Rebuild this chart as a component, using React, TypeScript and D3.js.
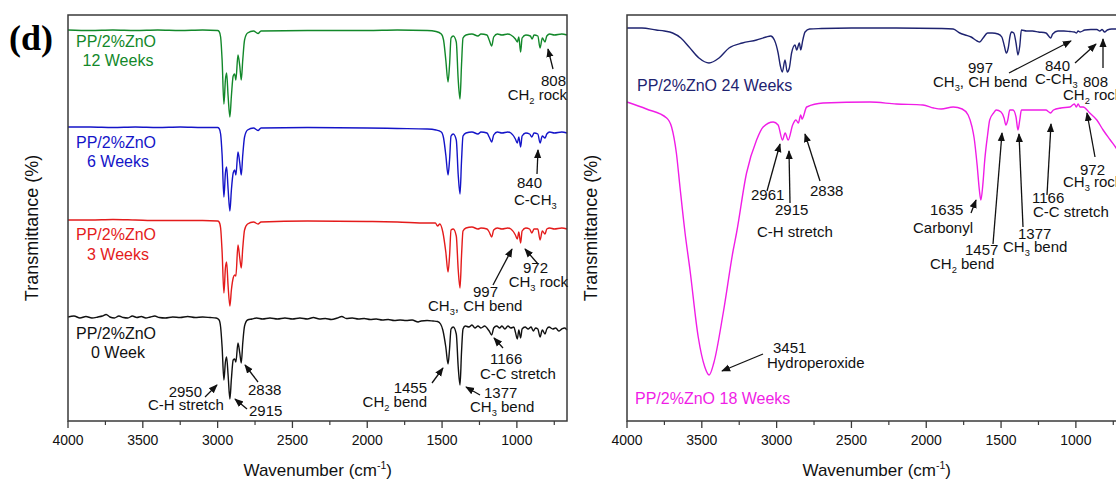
import React from 'react'
import * as d3 from 'd3'

// wavenumber axis (shared by both panels)
const wnDomain = [4000, 665]
const majorTicks = [4000, 3500, 3000, 2500, 2000, 1500, 1000]
const minorTicks = [3750, 3250, 2750, 2250, 1750, 1250, 750]

// spectra: [wavenumber, depth below the trace baseline] (arbitrary transmittance units)
const week12 = [[4000,0],[3850,0.5],[3700,0],[3550,0.5],[3400,0],[3250,0.5],[3100,0],[3000,0.5],[2990,1.5],[2980,7],[2970,30],[2958,74],[2948,50],[2940,43],[2930,66],[2918,87],[2908,66],[2896,46],[2886,44],[2878,50],[2864,25],[2852,36],[2842,50],[2832,30],[2820,10],[2800,3],[2760,1],[2730,3.5],[2710,1],[2400,0.5],[2000,0.5],[1800,0],[1600,0.5],[1540,1.5],[1505,4],[1490,10],[1475,30],[1460,52],[1450,35],[1440,8],[1425,6],[1405,12],[1392,50],[1380,69],[1370,35],[1360,8],[1340,5],[1300,4],[1260,6],[1240,4],[1200,5],[1185,10],[1168,16],[1155,7],[1130,4],[1100,5],[1060,4],[1040,5],[1010,9],[997,12],[987,7],[975,22],[965,8],[940,5],[910,6],[898,9],[885,5],[860,6],[845,18],[830,8],[812,12],[800,6],[780,4],[750,5],[700,4],[665,5]]
const week6 = [[4000,0],[3850,0],[3700,0.5],[3550,0],[3400,0.5],[3250,0],[3100,0.5],[3000,0.5],[2990,1.5],[2980,7],[2970,28],[2958,70],[2948,46],[2940,40],[2930,62],[2918,84],[2908,63],[2896,46],[2886,43],[2878,48],[2864,25],[2852,36],[2842,48],[2832,28],[2820,10],[2800,3],[2760,1],[2730,3.5],[2710,1],[2400,0.5],[2000,1],[1800,1.5],[1600,2],[1540,3],[1505,5],[1490,11],[1475,28],[1460,48],[1450,33],[1440,9],[1425,7],[1405,13],[1392,48],[1380,67],[1370,34],[1360,9],[1340,6],[1300,5],[1260,7],[1240,5],[1200,6],[1185,10],[1168,15],[1155,8],[1130,5],[1100,6],[1060,5],[1040,6],[1010,12],[997,16],[987,10],[975,20],[965,9],[940,6],[915,7],[900,10],[885,6],[860,7],[845,16],[830,9],[812,11],[800,7],[780,5],[750,6],[700,5],[665,6]]
const week3 = [[4000,0],[3850,0],[3700,-0.5],[3550,0],[3400,0.5],[3250,0.5],[3100,0.5],[3000,1],[2990,2],[2980,8],[2970,32],[2958,73],[2948,48],[2940,42],[2930,66],[2918,86],[2908,70],[2896,58],[2886,55],[2878,56],[2864,25],[2852,38],[2842,48],[2832,28],[2820,10],[2800,4],[2760,2],[2730,4],[2710,2],[2400,1],[2000,1.5],[1800,2],[1600,3],[1545,3],[1530,6],[1515,4],[1495,12],[1475,32],[1460,52],[1450,36],[1440,10],[1425,9],[1405,16],[1392,50],[1380,68],[1370,36],[1360,11],[1340,8],[1300,7],[1260,9],[1240,8],[1200,9],[1185,12],[1168,17],[1155,10],[1130,8],[1100,9],[1060,8],[1040,9],[1010,15],[997,19],[987,12],[975,23],[965,11],[940,8],[915,9],[900,13],[885,9],[860,9],[845,20],[830,11],[812,14],[800,9],[780,8],[750,9],[700,8],[665,9]]
const week0 = [[4000,0],[3960,-1],[3920,1],[3880,-0.5],[3840,1],[3800,0],[3770,-1],[3745,-2.5],[3720,0],[3690,1],[3660,-1],[3630,0.5],[3600,1],[3570,-1],[3540,0.5],[3510,-0.5],[3480,1],[3450,0],[3420,-1],[3390,0.5],[3350,1],[3300,0],[3250,0.5],[3200,-0.5],[3150,0.5],[3100,0],[3050,0.5],[3010,1],[2990,3],[2980,10],[2970,30],[2958,63],[2948,45],[2940,40],[2930,58],[2918,82],[2908,62],[2896,43],[2886,42],[2878,45],[2864,26],[2852,36],[2842,46],[2832,26],[2820,9],[2800,3],[2770,2],[2740,1],[2700,2],[2650,1],[2600,2],[2550,1],[2500,2],[2450,1],[2400,2],[2360,0.5],[2320,2],[2280,1.5],[2240,2.5],[2200,1],[2170,-0.5],[2140,1.5],[2100,1],[2060,2],[2020,1.5],[1980,2.5],[1940,2],[1900,3],[1860,2.5],[1820,3.5],[1780,3],[1740,3.5],[1700,3],[1660,5],[1640,4],[1600,3.5],[1560,4],[1530,4.5],[1510,7],[1495,13],[1475,30],[1460,47],[1450,32],[1440,12],[1425,10],[1405,17],[1392,50],[1380,68],[1370,35],[1360,12],[1345,9],[1320,10],[1300,8],[1280,11],[1260,9],[1240,11],[1215,9],[1200,11],[1185,14],[1168,18],[1155,11],[1135,9],[1115,11],[1100,9],[1080,12],[1060,9],[1040,11],[1020,10],[1010,15],[997,22],[987,13],[975,21],[965,12],[945,10],[925,12],[905,10],[890,14],[875,11],[860,12],[845,20],[830,13],[812,17],[800,12],[785,10],[760,12],[740,11],[720,14],[700,12],[680,11],[665,13]]
const week24 = [[4000,0],[3900,0],[3805,2],[3750,3],[3695,5],[3640,10],[3585,19],[3519,30],[3452,35],[3385,30],[3318,20],[3229,15],[3134,12],[3070,9],[3040,8],[3015,12],[2990,25],[2975,38],[2962,44],[2944,32],[2929,44],[2915,40],[2900,25],[2877,17],[2866,22],[2848,15],[2839,22],[2825,12],[2810,4],[2780,1],[2700,0.5],[2500,0],[2200,0],[1900,0.5],[1820,1],[1776,5],[1740,7],[1700,9],[1660,13],[1643,14],[1620,10],[1590,5],[1560,5],[1520,6],[1495,9],[1478,18],[1465,25],[1452,20],[1440,8],[1431,4],[1415,5],[1400,15],[1387,27],[1375,18],[1364,2],[1330,3],[1290,3],[1250,4],[1200,5],[1182,8],[1169,10],[1155,6],[1120,3],[1080,3],[1040,3.5],[1010,4],[996,5],[985,3],[972,4],[940,2],[900,1.5],[860,1.5],[840,3],[825,1.5],[808,4],[790,2],[760,1],[700,1],[665,1]]
const week18 = [[4000,-1],[3870,6],[3735,15],[3702,24],[3670,50],[3646,84],[3612,130],[3579,167],[3524,234],[3480,264],[3451,272],[3420,260],[3357,210],[3290,147],[3268,130],[3201,70],[3134,37],[3090,24],[3023,19],[2990,22],[2961,37],[2943,30],[2923,37],[2893,22],[2871,17],[2855,20],[2839,12],[2830,16],[2799,4],[2690,0],[2376,-1],[2200,1],[2022,2],[1950,5],[1900,6],[1820,4],[1760,6],[1720,12],[1694,24],[1680,35],[1660,62],[1645,87],[1635,97],[1622,82],[1609,57],[1590,32],[1576,17],[1550,10],[1532,7],[1500,9],[1480,15],[1468,22],[1455,17],[1442,7],[1420,7],[1400,14],[1387,27],[1375,17],[1364,7],[1300,7],[1264,7],[1200,7],[1180,9],[1169,10],[1150,7],[1100,5],[1040,4],[1010,1],[997,4],[985,1],[972,4],[952,4],[907,10],[860,17],[818,27],[770,37],[731,45],[700,52],[665,59]]

const leftSeries = [week12, week6, week3, week0]
const leftOffsets = [391, 294, 201, 104]
const leftNames = ['12 Weeks', '6 Weeks', '3 Weeks', '0 Week']
const rightSeries = [week24, week18]
const rightOffsets = [393, 318]
const rightNames = ['PP/2%ZnO 24 Weeks', 'PP/2%ZnO 18 Weeks']

const leftColors = ['#12882a', '#1414c8', '#e41b1b', '#111111']
const rightColors = ['#1e2370', '#f01de6']

const FONT = '"Liberation Sans", Arial, sans-serif'
const TOP = 15, BOTTOM = 421

// text with _n subscripts and ^-1 superscripts
const Rich = ({ x, y, text, anchor = 'start', fill = '#111', size = 15 }) => {
    const parts = text.split(/(_\d|\^-?\d)/).filter(p => p !== '')
    let shift = 0
    const spans = parts.map((p, i) => {
        if (p[0] === '_') {
            const dy = 4 - shift; shift = 4
            return <tspan key={i} dy={dy} fontSize={size * 0.62}>{p.slice(1)}</tspan>
        }
        if (p[0] === '^') {
            const dy = -7 - shift; shift = -7
            return <tspan key={i} dy={dy} fontSize={size * 0.62}>{p.slice(1)}</tspan>
        }
        const dy = -shift; shift = 0
        return <tspan key={i} dy={dy}>{p}</tspan>
    })
    return <text x={x} y={y} textAnchor={anchor} fill={fill} fontSize={size}>{spans}</text>
}

const Arrow = ({ a }) =>
    <line x1={a[0]} y1={a[1]} x2={a[2]} y2={a[3]} stroke="#111" strokeWidth={1.3} markerEnd="url(#arrowHead)" />

// annotations: [text lines with x, baseline, anchor], arrow tail -> head
const leftNotes = [
    { lines: [['808', 566, 86, 'end'], ['CH_2 rock', 567, 100, 'end']], arrow: [553, 69, 548, 49] },
    { lines: [['840', 517, 188, 'start'], ['C-CH_3', 514, 205, 'start']], arrow: [537, 174, 538, 150] },
    { lines: [['997', 473, 297, 'start'], ['CH_3, CH bend', 428, 311, 'start']], arrow: [493, 285, 512, 249] },
    { lines: [['972', 523, 273, 'start'], ['CH_3 rock', 568, 287, 'end']], arrow: [538, 264, 525, 249] },
    { lines: [['1166', 490, 364, 'start'], ['C-C stretch', 480, 379, 'start']], arrow: [503, 348, 494, 338] },
    { lines: [['1455', 427, 393, 'end'], ['CH_2 bend', 427, 407, 'end']], arrow: [432, 383, 443, 368] },
    { lines: [['1377', 484, 398, 'start'], ['CH_3 bend', 470, 412, 'start']], arrow: [480, 395, 466, 387] },
    { lines: [['2950', 202, 397, 'end'], ['C-H stretch', 148, 410, 'start']], arrow: [205, 397, 217, 385] },
    { lines: [['2838', 248, 395, 'start']], arrow: [258, 382, 245, 365] },
    { lines: [['2915', 249, 416, 'start']], arrow: [247, 409, 235, 399] },
]
const rightNotes = [
    { lines: [['2961', 751, 200, 'start']], arrow: [767, 191, 780, 144] },
    { lines: [['2915', 775, 215, 'start']], arrow: [790, 203, 789, 151] },
    { lines: [['2838', 810, 196, 'start']], arrow: [820, 181, 805, 134] },
    { lines: [['C-H stretch', 757, 237, 'start']], arrow: null },
    { lines: [['3451', 773, 353, 'start'], ['Hydroperoxide', 767, 368, 'start']], arrow: [763, 354, 722, 371] },
    { lines: [['997', 968, 73, 'start'], ['CH_3, CH bend', 933, 87, 'start']], arrow: [1009, 73, 1071, 41] },
    { lines: [['840', 1045, 71, 'start'], ['C-CH_3', 1035, 84, 'start']], arrow: [1075, 63, 1096, 44] },
    { lines: [['808', 1083, 87, 'start'], ['CH_2 rock', 1063, 100, 'start']], arrow: [1103, 68, 1103, 39] },
    { lines: [['1635', 930, 215, 'start'], ['Carbonyl', 913, 233, 'start']], arrow: [971, 213, 976, 200] },
    { lines: [['1457', 965, 255, 'start'], ['CH_2 bend', 930, 269, 'start']], arrow: [993, 244, 1002, 133] },
    { lines: [['1377', 1018, 239, 'start'], ['CH_3 bend', 1003, 252, 'start']], arrow: [1023, 227, 1019, 134] },
    { lines: [['1166', 1032, 203, 'start'], ['C-C stretch', 1033, 217, 'start']], arrow: [1047, 195, 1051, 124] },
    { lines: [['972', 1080, 175, 'start'], ['CH_3 rock', 1063, 187, 'start']], arrow: [1095, 157, 1087, 113] },
]

const Panel = ({ left, right, series, offsets, colors, children }) => {
    const x = d3.scaleLinear().domain(wnDomain).range([left, right])
    const y = d3.scaleLinear().domain([0, BOTTOM - TOP]).range([BOTTOM, TOP])
    const mid = (left + Math.min(right, 1126)) / 2
    return (
        <g>
            {series.map((s, i) => {
                const line = d3.line()
                    .x(d => x(d[0]))
                    .y(d => y(offsets[i] - d[1]))
                    .curve(d3.curveMonotoneX)
                return <path key={i} d={line(s)} fill="none" stroke={colors[i]} strokeWidth={1.4} strokeLinejoin="round" />
            })}
            <rect x={left} y={TOP} width={right - left} height={BOTTOM - TOP} fill="none" stroke="#3a3a3a" strokeWidth={1.5} />
            {majorTicks.map(t => (
                <g key={t}>
                    <line x1={x(t)} x2={x(t)} y1={BOTTOM} y2={BOTTOM + 7} stroke="#3a3a3a" strokeWidth={1.3} />
                    <text x={x(t)} y={445} textAnchor="middle" fontSize={14} fill="#111">{t}</text>
                </g>
            ))}
            {minorTicks.map(t => (
                <line key={t} x1={x(t)} x2={x(t)} y1={BOTTOM} y2={BOTTOM + 4} stroke="#3a3a3a" strokeWidth={1.2} />
            ))}
            <Rich x={(left + 499 / 2 + left) / 2 + 125} y={476} text="Wavenumber (cm^-1)" anchor="middle" size={17} />
            <text transform={`translate(${left - 30},${(TOP + BOTTOM) / 2 + 10}) rotate(-90)`} textAnchor="middle" fontSize={18} fill="#111">Transmittance (%)</text>
            {children}
        </g>
    )
}

const Notes = ({ notes }) => (
    <g>
        {notes.map((n, i) => (
            <g key={i}>
                {n.lines.map((l, j) => <Rich key={j} text={l[0]} x={l[1]} y={l[2]} anchor={l[3]} size={15} />)}
                {n.arrow && <Arrow a={n.arrow} />}
            </g>
        ))}
    </g>
)

export default function App() {
    const leftLabelY = [[47, 66], [148, 167], [240, 260], [339, 358]]
    return (
        <svg width={1116} height={480} style={{ position: 'absolute', left: 0, top: 0, background: '#fff' }} fontFamily={FONT}>
            <defs>
                <marker id="arrowHead" viewBox="0 0 10 10" refX="9" refY="5" markerWidth="9" markerHeight="9" orient="auto" markerUnits="userSpaceOnUse">
                    <path d="M0,1 L10,5 L0,9 z" fill="#111" />
                </marker>
            </defs>
            <rect width={1116} height={480} fill="#fff" />
            <Panel left={68} right={567} series={leftSeries} offsets={leftOffsets} colors={leftColors}>
                {leftNames.map((n, i) => (
                    <g key={n} fill={leftColors[i]} fontSize={16} textAnchor="middle">
                        <text x={116} y={leftLabelY[i][0]}>PP/2%ZnO</text>
                        <text x={118} y={leftLabelY[i][1]}>{n}</text>
                    </g>
                ))}
                <Notes notes={leftNotes} />
            </Panel>
            <Panel left={627} right={1126} series={rightSeries} offsets={rightOffsets} colors={rightColors}>
                <text x={637} y={91} fill={rightColors[0]} fontSize={16}>{rightNames[0]}</text>
                <text x={635} y={404} fill={rightColors[1]} fontSize={16}>{rightNames[1]}</text>
                <Notes notes={rightNotes} />
            </Panel>
            <text x={9} y={50} fontFamily='"Liberation Serif", "Times New Roman", serif' fontWeight="bold" fontSize={36} fill="#000">(d)</text>
        </svg>
    )
}
